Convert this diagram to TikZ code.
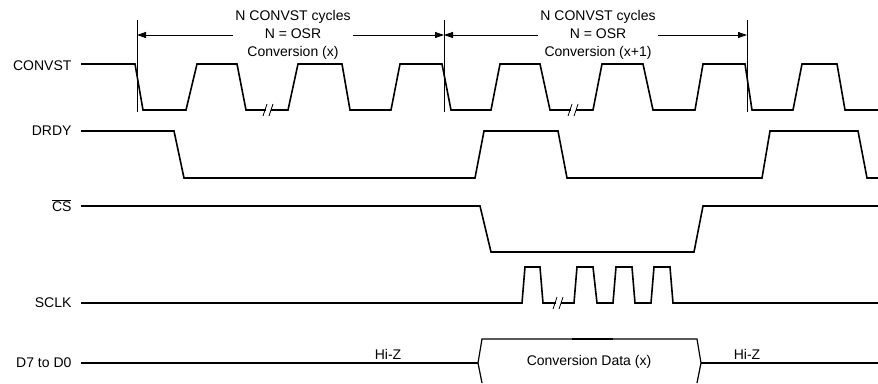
\documentclass[tikz,border=0pt]{standalone}
\usepackage{fontspec}
\setmainfont{Liberation Sans}
\usetikzlibrary{arrows.meta}
\begin{document}
\begin{tikzpicture}[x=1pt, y=-1pt,
    wave/.style={line width=1.6pt, line join=miter},
    marker/.style={line width=0.8pt},
    span/.style={line width=0.8pt, -{Triangle[length=9pt,width=6pt]}},
    sig/.style={font=\fontsize{14}{18}\selectfont, anchor=east},
    txt/.style={font=\fontsize{14}{18}\selectfont, align=center, inner sep=2pt},
    pics/brk/.style={code={
      \fill[white] (-2.5,-3) rectangle (2.5,3);
      \draw[line width=0.8pt] (-5,6) -- (-1,-6);
      \draw[line width=0.8pt] (1,6) -- (5,-6);
    }}]
  \useasboundingbox (0,0) rectangle (878,383);
  % Signal labels
  \node[sig] (lconv) at (75,66) {CONVST};
  \node[sig] (ldrdy) at (75,131) {DRDY};
  \node[sig] (lcs)   at (75,206) {$\overline{\mbox{CS}}$};
  \node[sig] (lsclk) at (75,303) {SCLK};
  \node[sig] (ldata) at (75,363) {D7 to D0};
  % CONVST
  \draw[wave] (81,64) -- (135,64) -- (143,110) -- (186,110) -- (197,64) --
    (237,64) -- (246,110) -- (288,110) -- (298,64) -- (342,64) --
    (350,110) -- (391,110) -- (400,64) -- (442,64) -- (451,110) --
    (491,110) -- (500,64) -- (540,64) -- (550,110) -- (593,110) --
    (602,64) -- (643,64) -- (653,110) -- (695,110) -- (703,64) --
    (745,64) -- (752,110) -- (793,110) -- (802,64) -- (837,64) --
    (845,110) -- (878,110);
  \pic at (268,110) {brk};
  \pic at (573,110) {brk};
  % DRDY
  \draw[wave] (81,131) -- (174,131) -- (184,178) -- (475,178) -- (484,131) --
    (558,131) -- (567,178) -- (762,178) -- (770,131) -- (858,131) --
    (867,178) -- (878,178);
  % CS
  \draw[wave] (81,206) -- (480,206) -- (491,252) -- (694,252) -- (703,206) --
    (878,206);
  % SCLK
  \draw[wave] (81,303) -- (522,303) -- (525,267) -- (540,267) -- (543,303) --
    (574,303) -- (577,267) -- (593,267) -- (597,303) -- (613,303) --
    (616,267) -- (632,267) -- (635,303) -- (651,303) -- (654,267) --
    (670,267) -- (673,303) -- (878,303);
  \pic at (558,303) {brk};
  % D7 to D0
  \draw[wave] (81,363) -- (478,363);
  \draw[line width=1.2pt] (482,383) -- (478,363) -- (482,339) -- (697,339) --
    (701,363) -- (697,383);
  \draw[line width=2.4pt] (572,339) -- (613,339);
  \draw[wave] (701,363) -- (878,363);
  \node[txt] (data) at (589,362) {Conversion Data (x)};
  \node[txt] (hiz1) at (388,354) {Hi-Z};
  \node[txt] (hiz2) at (747,354) {Hi-Z};
  % Conversion markers
  \foreach \x/\n in {137/1, 444/2, 747/3} {
    \draw[marker] (\x,20) -- (\x,112);
    \coordinate (m\n) at (\x,35);
  }
  \node[txt] (conv1) at (293,35) {N CONVST cycles\\N = OSR\\Conversion (x)};
  \node[txt] (conv2) at (598,35) {N CONVST cycles\\N = OSR\\Conversion (x+1)};
  \draw[span] (conv1.west |- m1) -- (m1);
  \draw[span] (conv1.east |- m2) -- (m2);
  \draw[span] (conv2.west |- m2) -- (m2);
  \draw[span] (conv2.east |- m3) -- (m3);
\end{tikzpicture}
\end{document}
